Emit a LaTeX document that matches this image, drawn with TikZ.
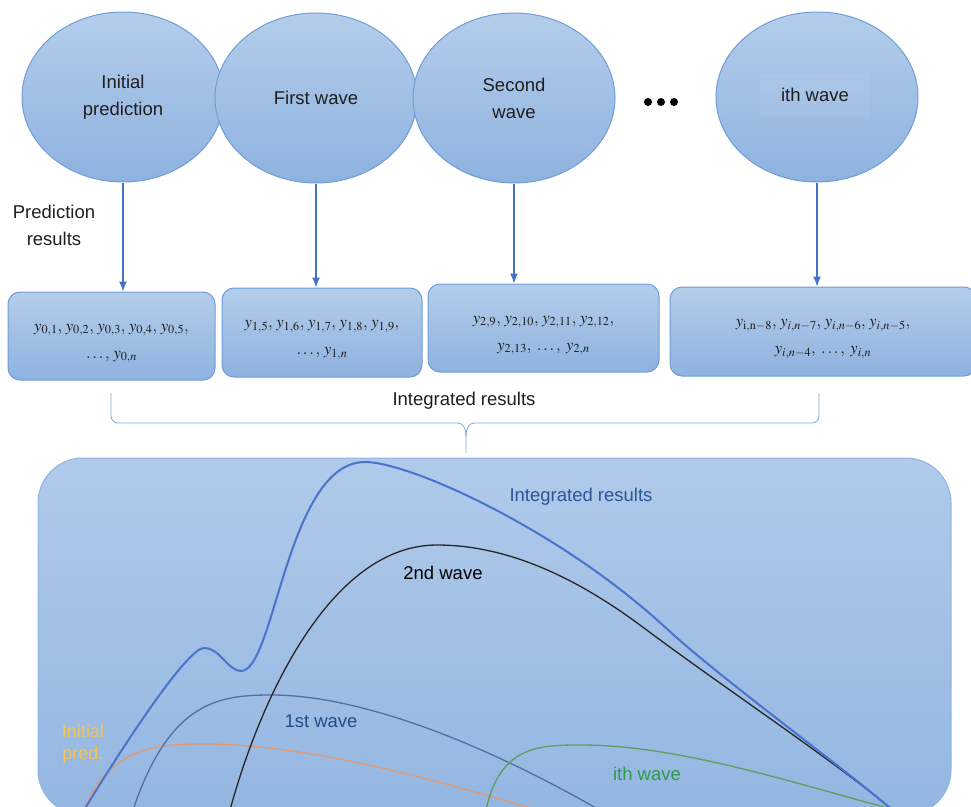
\documentclass[tikz,border=0pt]{standalone}
\usepackage{mathptmx}
\usepackage{fontspec}
\setmainfont{Liberation Sans}
\usetikzlibrary{arrows.meta}
\usetikzlibrary{calc}
\usetikzlibrary{shapes.geometric}
\usepackage{amsmath}

\definecolor{wavetop}{HTML}{B4CDEB}
\definecolor{wavebot}{HTML}{8EB2DF}
\definecolor{wavedge}{HTML}{6F9DD8}
\definecolor{arrowblue}{HTML}{4472C4}
\definecolor{paneltop}{HTML}{B0CAEA}
\definecolor{panelbot}{HTML}{93B6E1}
\definecolor{panelline}{HTML}{8FB4E3}
\definecolor{intblue}{HTML}{4A73CC}
\definecolor{intlabel}{HTML}{2B5797}
\definecolor{firstcol}{HTML}{52709F}
\definecolor{firstlabel}{HTML}{1F4E8A}
\definecolor{initcol}{HTML}{E39A72}
\definecolor{initlabel}{HTML}{F2C45A}
\definecolor{ithcol}{HTML}{5E9E5E}
\definecolor{ithlabel}{HTML}{2E9A4C}
\definecolor{txtdark}{HTML}{1E1E1E}

\newcommand{\lblfont}{\fontsize{18.5}{27}\selectfont}
\newcommand{\boxstrut}{\rule{0pt}{22pt}}

\begin{document}
\begin{tikzpicture}[x=1pt, y=-1pt,
	wave/.style={ellipse, draw=wavedge, line width=1pt, top color=wavetop, bottom color=wavebot,
		minimum width=202pt, minimum height=170pt, inner sep=0pt, align=center, font=\lblfont, text=txtdark},
	resbox/.style={rectangle, rounded corners=12pt, draw=wavedge, line width=1pt, top color=wavetop,
		bottom color=wavebot, inner sep=0pt, align=center, text=txtdark, font=\fontsize{16.5}{27}\selectfont},
	flow/.style={draw=arrowblue, line width=1.3pt, -{Latex[length=10pt,width=8pt]}},
	bracel/.style={draw=wavedge!90, line width=0.8pt},
	curve/.style={line width=1.3pt},
	curvelbl/.style={font=\lblfont, inner sep=0pt}]

	% Page
	\clip (0,0) rectangle (971,806);

	% Waves
	\node[wave] (init) at (123,97) {Initial\\prediction};
	\node[wave] (wave1) at (316,98) {First wave};
	\node[wave] (wave2) at (514,98) {Second\\wave};
	\node[wave] (wavei) at (817,97) {};
	\node[fill=white, fill opacity=0.06, text opacity=1, minimum width=110pt, minimum height=44pt,
		font=\lblfont, text=txtdark] (ithname) at (815,95) {ith wave};
	\foreach \x in {648,661,674}
		\fill (\x,102) circle[radius=4pt];

	% Prediction results
	\node[font=\lblfont, align=center, text=txtdark] (predlbl) at (54,225) {Prediction\\results};
	\node[resbox, minimum width=207pt, minimum height=88pt] (res0) at (111.5,336)
		{\boxstrut$y_{0,1},\,y_{0,2},\,y_{0,3},\,y_{0,4},\,y_{0,5},$\\$\ldots,\,y_{0,n}$};
	\node[resbox, minimum width=200pt, minimum height=89pt] (res1) at (322,332.5)
		{\boxstrut$y_{1,5},\,y_{1,6},\,y_{1,7},\,y_{1,8},\,y_{1,9},$\\$\ldots,\,y_{1,n}$};
	\node[resbox, minimum width=231pt, minimum height=88pt] (res2) at (543.5,328)
		{\boxstrut$y_{2,9},\,y_{2,10},\,y_{2,11},\,y_{2,12},$\\$y_{2,13},\;\ldots,\;y_{2,n}$};
	\node[resbox, minimum width=306pt, minimum height=89pt] (resi) at (823,331.5)
		{\boxstrut$y_{\mathrm{i,n}-8},\,y_{i,n-7},\,y_{i,n-6},\,y_{i,n-5},$\\$y_{i,n-4},\;\ldots,\;y_{i,n}$};

	% Arrows down
	\draw[flow] (init.south) -- (init.south |- res0.north);
	\draw[flow] (wave1.south) -- (wave1.south |- res1.north);
	\draw[flow] (wave2.south) -- (wave2.south |- res2.north);
	\draw[flow] (wavei.south) -- (wavei.south |- resi.north);

	% Brace
	\coordinate (braceleft) at (111,393);
	\coordinate (braceright) at (819,393);
	\coordinate (bracemid) at (466,436);
	\coordinate (bracetip) at (466,453);
	\draw[bracel] (braceleft) -- (111,416) to[out=-90,in=180] (118,423) -- (458,423)
		to[out=0,in=90] (bracemid) -- (bracetip);
	\draw[bracel] (bracemid) to[out=90,in=180] (474,423) -- (812,423)
		to[out=0,in=-90] (819,416) -- (braceright);
	\node[font=\lblfont, text=txtdark] (intname) at (464,401) {Integrated results};

	% Panel
	\draw[draw=panelline, line width=1pt, top color=paneltop, bottom color=panelbot, rounded corners=45pt]
		(38,458) rectangle (951,815);

	% Curves
	\draw[curve, color=initcol] (84,810) .. controls (110,745) and (160,744) .. (205,744)
		.. controls (300,744) and (420,775) .. (530,808);
	\draw[curve, color=firstcol] (133,810) .. controls (170,700) and (220,695) .. (272,695)
		.. controls (340,695) and (450,725) .. (596,808);
	\draw[curve, color=ithcol] (486,810) .. controls (500,745) and (540,745) .. (582,745)
		.. controls (680,745) and (800,785) .. (888,808);
	\draw[curve, color=black!85] (230,810) .. controls (260,700) and (330,545) .. (437,545)
		.. controls (510,545) and (580,580) .. (644,628)
		.. controls (720,685) and (840,765) .. (890,808);
	\draw[line width=2pt, color=intblue] (84,810) .. controls (130,735) and (188,648) .. (204,648)
		.. controls (220,648) and (228,671) .. (241,671)
		.. controls (275,671) and (287,462) .. (365,462)
		.. controls (410,462) and (560,530) .. (666,628)
		.. controls (720,678) and (840,765) .. (890,808);

	% Curve labels
	\node[curvelbl, text=intlabel] (intlbl) at (581,497) {Integrated results};
	\node[curvelbl, text=black] (secondlbl) at (443,573) {2nd wave};
	\node[curvelbl, text=firstlabel] (firstlbl) at (321,721) {1st wave};
	\node[curvelbl, text=initlabel, align=center, font=\fontsize{18}{22}\selectfont] (initlbl) at (83,744) {Initial\\pred.};
	\node[curvelbl, text=ithlabel] (ithlbl) at (647,774) {ith wave};

\end{tikzpicture}
\end{document}
